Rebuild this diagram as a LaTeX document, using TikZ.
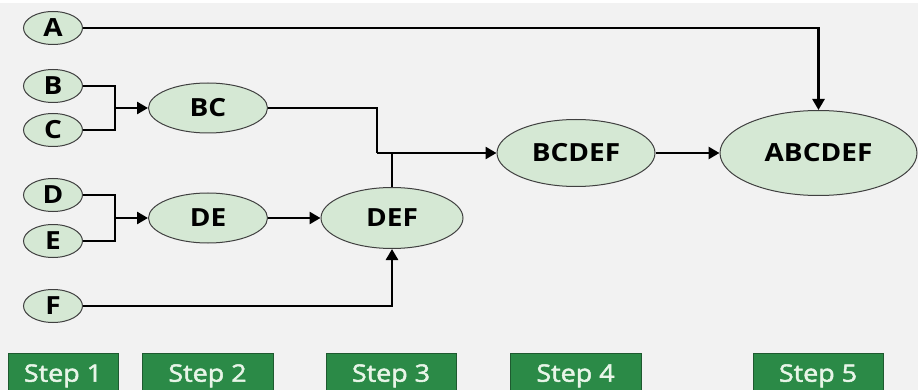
\documentclass[tikz,border=0pt]{standalone}
\usepackage{fontspec}
\setmainfont[FakeStretch=1.12]{Open Sans}
\newfontfamily\stepfont[FakeStretch=1.12, FakeBold=2]{Open Sans}
\usetikzlibrary{arrows.meta,shapes.geometric}
\definecolor{canvas}{HTML}{F2F2F2}
\definecolor{nodefill}{HTML}{D5E8D4}
\definecolor{nodeline}{HTML}{404040}
\definecolor{stepfill}{HTML}{2B8A47}
\definecolor{stepline}{HTML}{1E5A30}
\definecolor{steptext}{HTML}{E8F5E8}
\tikzset{
  set/.style={ellipse, draw=nodeline, line width=1pt, fill=nodefill, inner sep=0pt,
    font=\fontsize{25}{27}\selectfont\bfseries},
  small/.style={set, minimum width=59, minimum height=33},
  link/.style={line width=2.6pt, black},
  flow/.style={link, -{Triangle[length=11pt,width=12pt]}},
  stepbox/.style={rectangle, draw=stepline, line width=1pt, fill=stepfill, text=steptext,
    minimum height=40, inner sep=0pt, font=\stepfont\fontsize{24}{26}\selectfont, text depth=0pt}
}
\begin{document}
\begin{tikzpicture}[x=1pt, y=-1pt]
  \useasboundingbox (0,0) rectangle (923,390);
  \clip (0,0) rectangle (923,390);
  \fill[white] (0,0) rectangle (923,390);
  \fill[canvas] (0,3) rectangle (918,390);

  % single items
  \node[small] (A) at (53,28) {A};
  \node[small] (B) at (53,86) {B};
  \node[small] (C) at (53,130) {C};
  \node[small] (D) at (53,195) {D};
  \node[small] (E) at (53,241) {E};
  \node[small] (F) at (53,306) {F};

  % merged groups
  \node[set, minimum width=119, minimum height=50] (BC) at (208,108) {BC};
  \node[set, minimum width=119, minimum height=50] (DE) at (208,218) {DE};
  \node[set, minimum width=142, minimum height=61] (DEF) at (392,218) {DEF};
  \node[set, minimum width=158, minimum height=67] (BCDEF) at (576,153) {BCDEF};
  \node[set, minimum width=197, minimum height=85] (ABCDEF) at (818.5,153) {ABCDEF};

  % joints
  \coordinate (jBC) at (115,108);
  \coordinate (jDE) at (115,218);
  \coordinate (jBCDEF) at (377,153);

  % connectors
  \draw[flow] (A.east) -| (ABCDEF.north);
  \draw[link] (B.east) -| (jBC) |- (C.east);
  \draw[flow] (jBC) -- (BC.west);
  \draw[link] (D.east) -| (jDE) |- (E.east);
  \draw[flow] (jDE) -- (DE.west);
  \draw[flow] (DE.east) -- (DEF.west);
  \draw[flow] (F.east) -| (DEF.south);
  \draw[link] (BC.east) -| (jBCDEF);
  \draw[link] (DEF.north) -- (DEF.north |- jBCDEF);
  \draw[flow] (jBCDEF) -- (BCDEF.west);
  \draw[flow] (BCDEF.east) -- (ABCDEF.west);

  % step labels
  \node[stepbox, minimum width=110] (s1) at (63,373) {Step 1};
  \node[stepbox, minimum width=131] (s2) at (207.5,373) {Step 2};
  \node[stepbox, minimum width=130] (s3) at (391,373) {Step 3};
  \node[stepbox, minimum width=131] (s4) at (575.5,373) {Step 4};
  \node[stepbox, minimum width=130] (s5) at (818,373) {Step 5};
\end{tikzpicture}
\end{document}
